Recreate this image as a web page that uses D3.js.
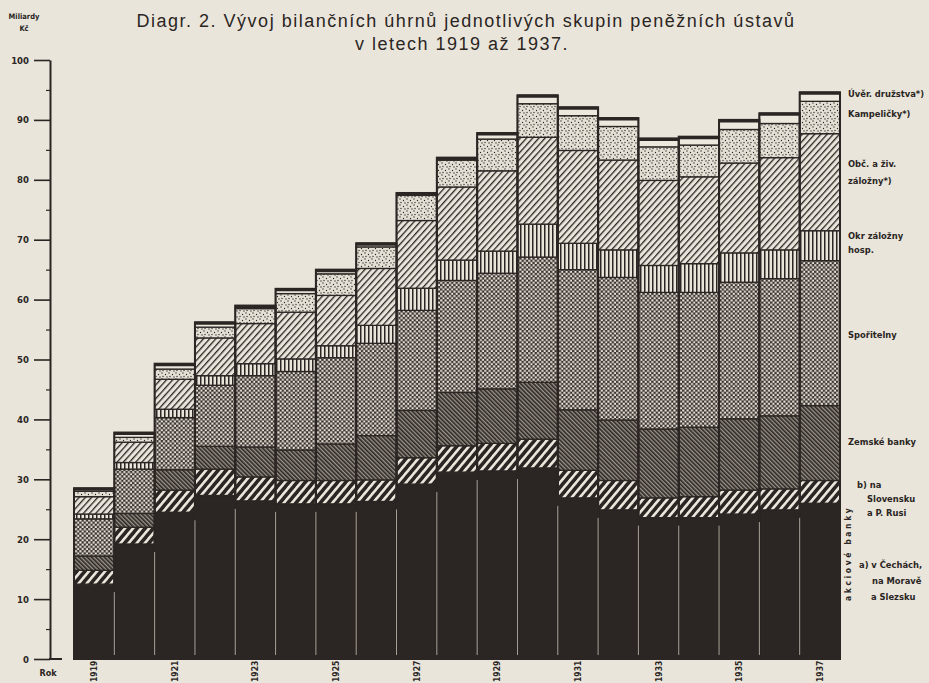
<!DOCTYPE html>
<html><head><meta charset="utf-8">
<script src="https://cdn.jsdelivr.net/npm/d3@7/dist/d3.min.js"></script>
<style>
html,body{margin:0;padding:0;background:#e9e5da;overflow:hidden;}
svg{display:block;}
</style></head>
<body>
<script>
// ---------- DATA (Miliardy Kč) ----------
const years = [1919,1920,1921,1922,1923,1924,1925,1926,1927,1928,1929,1930,1931,1932,1933,1934,1935,1936,1937];
const yearLabels = ["1919","1921","1923","1925","1927","1929","1931","1933","1935","1937"];
const yTicks = [0,10,20,30,40,50,60,70,80,90,100];
const yMinorTicks = [5,15,25,35,45,55,65,75,85,95];

const akcioveCechy     = [12.5,19.2,24.5,27.3,26.4,25.9,25.9,26.3,29.2,31.2,31.4,31.9,26.9,24.9,23.6,23.6,24.2,24.9,26.0];
const akcioveSlovensko = [2.3,2.8,3.7,4.4,4.0,3.9,3.9,3.6,4.4,4.4,4.6,4.8,4.6,4.9,3.3,3.5,4.0,3.5,3.8];
const zemskeBanky      = [2.4,2.3,3.4,3.8,5.0,5.1,6.1,7.4,7.9,8.9,9.1,9.5,10.1,10.1,11.5,11.6,11.9,12.2,12.5];
const sporitelny       = [6.2,7.4,8.7,10.2,11.9,13.1,14.4,15.4,16.7,18.7,19.3,20.9,23.4,23.8,22.8,22.5,22.8,22.9,24.2];
const okresniZalozny   = [0.8,1.1,1.4,1.6,2.0,2.1,2.0,3.0,3.7,3.4,3.7,5.5,4.4,4.6,4.5,4.8,4.9,4.8,5.0];
const obcanskeZalozny  = [2.9,3.4,5.0,6.3,6.7,7.8,8.4,9.5,11.3,12.2,13.4,14.5,15.5,15.0,14.2,14.5,15.0,15.4,16.2];
const kampelicky       = [0.9,0.8,1.7,1.8,2.5,3.1,3.6,3.6,4.2,4.5,5.3,5.6,5.8,5.6,5.6,5.3,5.6,5.7,5.4];
const uverDruzstva     = [0.5,0.8,0.9,0.8,0.5,0.8,0.7,0.6,0.4,0.4,1.0,1.4,1.4,1.4,1.4,1.4,1.6,1.7,1.5];

const seriesKeys = ["akcioveCechy","akcioveSlovensko","zemskeBanky","sporitelny","okresniZalozny","obcanskeZalozny","kampelicky","uverDruzstva"];
const seriesArrays = {akcioveCechy,akcioveSlovensko,zemskeBanky,sporitelny,okresniZalozny,obcanskeZalozny,kampelicky,uverDruzstva};

// ---------- LAYOUT ----------
const W = 929, H = 683;
const INK = "#2b2523", PAPER = "#e9e5db";
const svg = d3.select("body").append("svg").attr("width", W).attr("height", H);
svg.append("rect").attr("width", W).attr("height", H).attr("fill", PAPER);

const x = d3.scaleBand().domain(years).range([74, 840]).padding(0);
const y = d3.scaleLinear().domain([0, 100]).range([659, 60]);

// ---------- PATTERNS ----------
const defs = svg.append("defs");
function stripePattern(id, period, lineW, angle, bg, fg){
  const p = defs.append("pattern").attr("id", id).attr("patternUnits","userSpaceOnUse")
    .attr("width", period).attr("height", period).attr("patternTransform", `rotate(${angle})`);
  p.append("rect").attr("width", period).attr("height", period).attr("fill", bg);
  p.append("rect").attr("x", 0).attr("width", lineW).attr("height", period).attr("fill", fg);
}
stripePattern("pSlov", 6.2, 2.6, 40, INK, "#ece8de");
stripePattern("pZem", 3.0, 1.6, -45, "#9a948b", INK);
stripePattern("pOkr", 4.0, 1.5, 0, PAPER, INK);
stripePattern("pObc", 4.6, 1.3, 42, PAPER, INK);
(function(){
  const p = defs.append("pattern").attr("id","pSpor").attr("patternUnits","userSpaceOnUse")
    .attr("width",4.4).attr("height",4.4);
  p.append("rect").attr("width",4.4).attr("height",4.4).attr("fill","#3a3330");
  p.append("rect").attr("x",0.2).attr("y",0.2).attr("width",2.1).attr("height",2.1).attr("fill","#ebe6dc");
  p.append("rect").attr("x",2.4).attr("y",2.4).attr("width",2.1).attr("height",2.1).attr("fill","#ebe6dc");
})();
(function(){
  const p = defs.append("pattern").attr("id","pKamp").attr("patternUnits","userSpaceOnUse")
    .attr("width",7).attr("height",6);
  p.append("rect").attr("width",7).attr("height",6).attr("fill","#e4e0d5");
  [[1,1],[4.5,2.5],[2,4.5],[6,5]].forEach(d=>p.append("circle").attr("cx",d[0]).attr("cy",d[1]).attr("r",0.65).attr("fill",INK));
})();

const fills = {
  akcioveCechy: INK,
  akcioveSlovensko: "url(#pSlov)",
  zemskeBanky: "url(#pZem)",
  sporitelny: "url(#pSpor)",
  okresniZalozny: "url(#pOkr)",
  obcanskeZalozny: "url(#pObc)",
  kampelicky: "url(#pKamp)",
  uverDruzstva: "#ece8de"
};

// ---------- STACK ----------
const table = years.map((yr, i) => {
  const row = {year: yr};
  seriesKeys.forEach(k => row[k] = seriesArrays[k][i]);
  return row;
});
const stacked = d3.stack().keys(seriesKeys)(table);

const gBars = svg.append("g");
stacked.forEach(layer => {
  gBars.selectAll(null).data(layer).join("rect")
    .attr("x", d => x(d.data.year))
    .attr("width", x.bandwidth())
    .attr("y", d => y(d[1]))
    .attr("height", d => y(d[0]) - y(d[1]))
    .attr("fill", fills[layer.key])
    .attr("stroke", INK)
    .attr("stroke-width", 1.3);
});

gBars.selectAll(null).data(stacked[stacked.length-1]).join("rect")
  .attr("x", d => x(d.data.year))
  .attr("width", x.bandwidth())
  .attr("y", d => y(d[1]))
  .attr("height", d => y(0) - y(d[1]))
  .attr("fill", "none").attr("stroke", INK).attr("stroke-width", 2);
gBars.selectAll(null).data(stacked[stacked.length-1]).join("line")
  .attr("x1", d => x(d.data.year)).attr("x2", d => x(d.data.year) + x.bandwidth())
  .attr("y1", d => y(d[1]) + 1).attr("y2", d => y(d[1]) + 1)
  .attr("stroke", INK).attr("stroke-width", 3);

const blackLayer = stacked[0];
gBars.selectAll(null).data(blackLayer.slice(1)).join("line")
  .attr("x1", d => x(d.data.year)).attr("x2", d => x(d.data.year))
  .attr("y1", (d, i) => y(Math.min(d[1], blackLayer[i][1])) + 8)
  .attr("y2", y(0) - 4)
  .attr("stroke", "#cfc9bd").attr("stroke-width", 0.9).attr("opacity", 0.85);

// ---------- AXES ----------
const FONT_B = "'DejaVu Sans Condensed','Liberation Sans Narrow','Arial Narrow',sans-serif";
const axis = svg.append("g").attr("transform", "translate(50,0)")
  .call(d3.axisLeft(y).tickValues(yTicks).tickSize(16).tickSizeOuter(0).tickPadding(5).tickFormat(d3.format("d")));
axis.select(".domain").attr("stroke", INK).attr("stroke-width", 2);
axis.selectAll(".tick line").attr("stroke", INK).attr("stroke-width", 1.6);
axis.selectAll(".tick text").attr("fill", INK).style("font-family", FONT_B)
  .style("font-weight", "bold").style("font-size", "9.5px");
const minor = svg.append("g").attr("transform", "translate(50,0)")
  .call(d3.axisLeft(y).tickValues(yMinorTicks).tickSize(4).tickSizeOuter(0).tickFormat(""));
minor.select(".domain").remove();
minor.selectAll(".tick line").attr("stroke", INK).attr("stroke-width", 1.2);
svg.append("line").attr("x1", 49).attr("x2", 62).attr("y1", y(0)).attr("y2", y(0))
  .attr("stroke", INK).attr("stroke-width", 2);

svg.append("text").attr("x", 24).attr("y", 19).attr("text-anchor", "middle")
  .style("font-family", FONT_B).style("font-weight", "bold").style("font-size", "7.5px").attr("fill", INK).text("Miliardy");
svg.append("text").attr("x", 24).attr("y", 31).attr("text-anchor", "middle")
  .style("font-family", FONT_B).style("font-weight", "bold").style("font-size", "7.5px").attr("fill", INK).text("Kč");

// year labels (rotated, reading upward)
svg.append("g").selectAll("text").data(yearLabels).join("text")
  .attr("transform", d => `translate(${x(+d) + x.bandwidth()/2 + 3},682) rotate(-90)`)
  .attr("text-anchor", "start")
  .style("font-family", FONT_B).style("font-weight", "bold").style("font-size", "8.5px")
  .attr("fill", INK).text(d => d);
svg.append("text").attr("x", 48).attr("y", 676).attr("text-anchor", "middle")
  .style("font-family", FONT_B).style("font-weight", "bold").style("font-size", "9px").attr("fill", INK).text("Rok");

// ---------- TITLE ----------
const title1 = "Diagr. 2. Vývoj bilančních úhrnů jednotlivých skupin peněžních ústavů";
const title2 = "v letech 1919 až 1937.";
svg.append("text").attr("x", 466).attr("y", 27).attr("text-anchor", "middle")
  .style("font-family", "'Liberation Sans',Arial,sans-serif").style("font-size", "18px")
  .style("letter-spacing", "1.5px").attr("fill", INK).text(title1);
svg.append("text").attr("x", 462).attr("y", 50).attr("text-anchor", "middle")
  .style("font-family", "'Liberation Sans',Arial,sans-serif").style("font-size", "18px")
  .style("letter-spacing", "1.5px").attr("fill", INK).text(title2);

// ---------- LEGEND LABELS ----------
const legendLines = [
  ["Úvěr. družstva*)", 848, 97],
  ["Kampeličky*)", 848, 117],
  ["Obč. a živ.", 848, 167],
  ["záložny*)", 848, 184],
  ["Okr záložny", 848, 239],
  ["hosp.", 848, 253],
  ["Spořitelny", 848, 338],
  ["Zemské banky", 848, 445],
  ["b) na", 857, 488],
  ["Slovensku", 867, 502],
  ["a P. Rusi", 867, 516],
  ["a) v Čechách,", 859, 568],
  ["na Moravě", 872, 584],
  ["a Slezsku", 871, 600]
];
svg.append("g").selectAll("text").data(legendLines).join("text")
  .attr("x", d => d[1]).attr("y", d => d[2])
  .style("font-family", FONT_B).style("font-weight", "bold").style("font-size", "9.3px")
  .attr("fill", INK).text(d => d[0]);
svg.append("text").attr("transform", "translate(851,601) rotate(-90)")
  .style("font-family", FONT_B).style("font-weight", "bold").style("font-size", "8.5px")
  .style("letter-spacing", "2.6px").attr("fill", INK).text("akciové banky");
</script>
</body></html>
